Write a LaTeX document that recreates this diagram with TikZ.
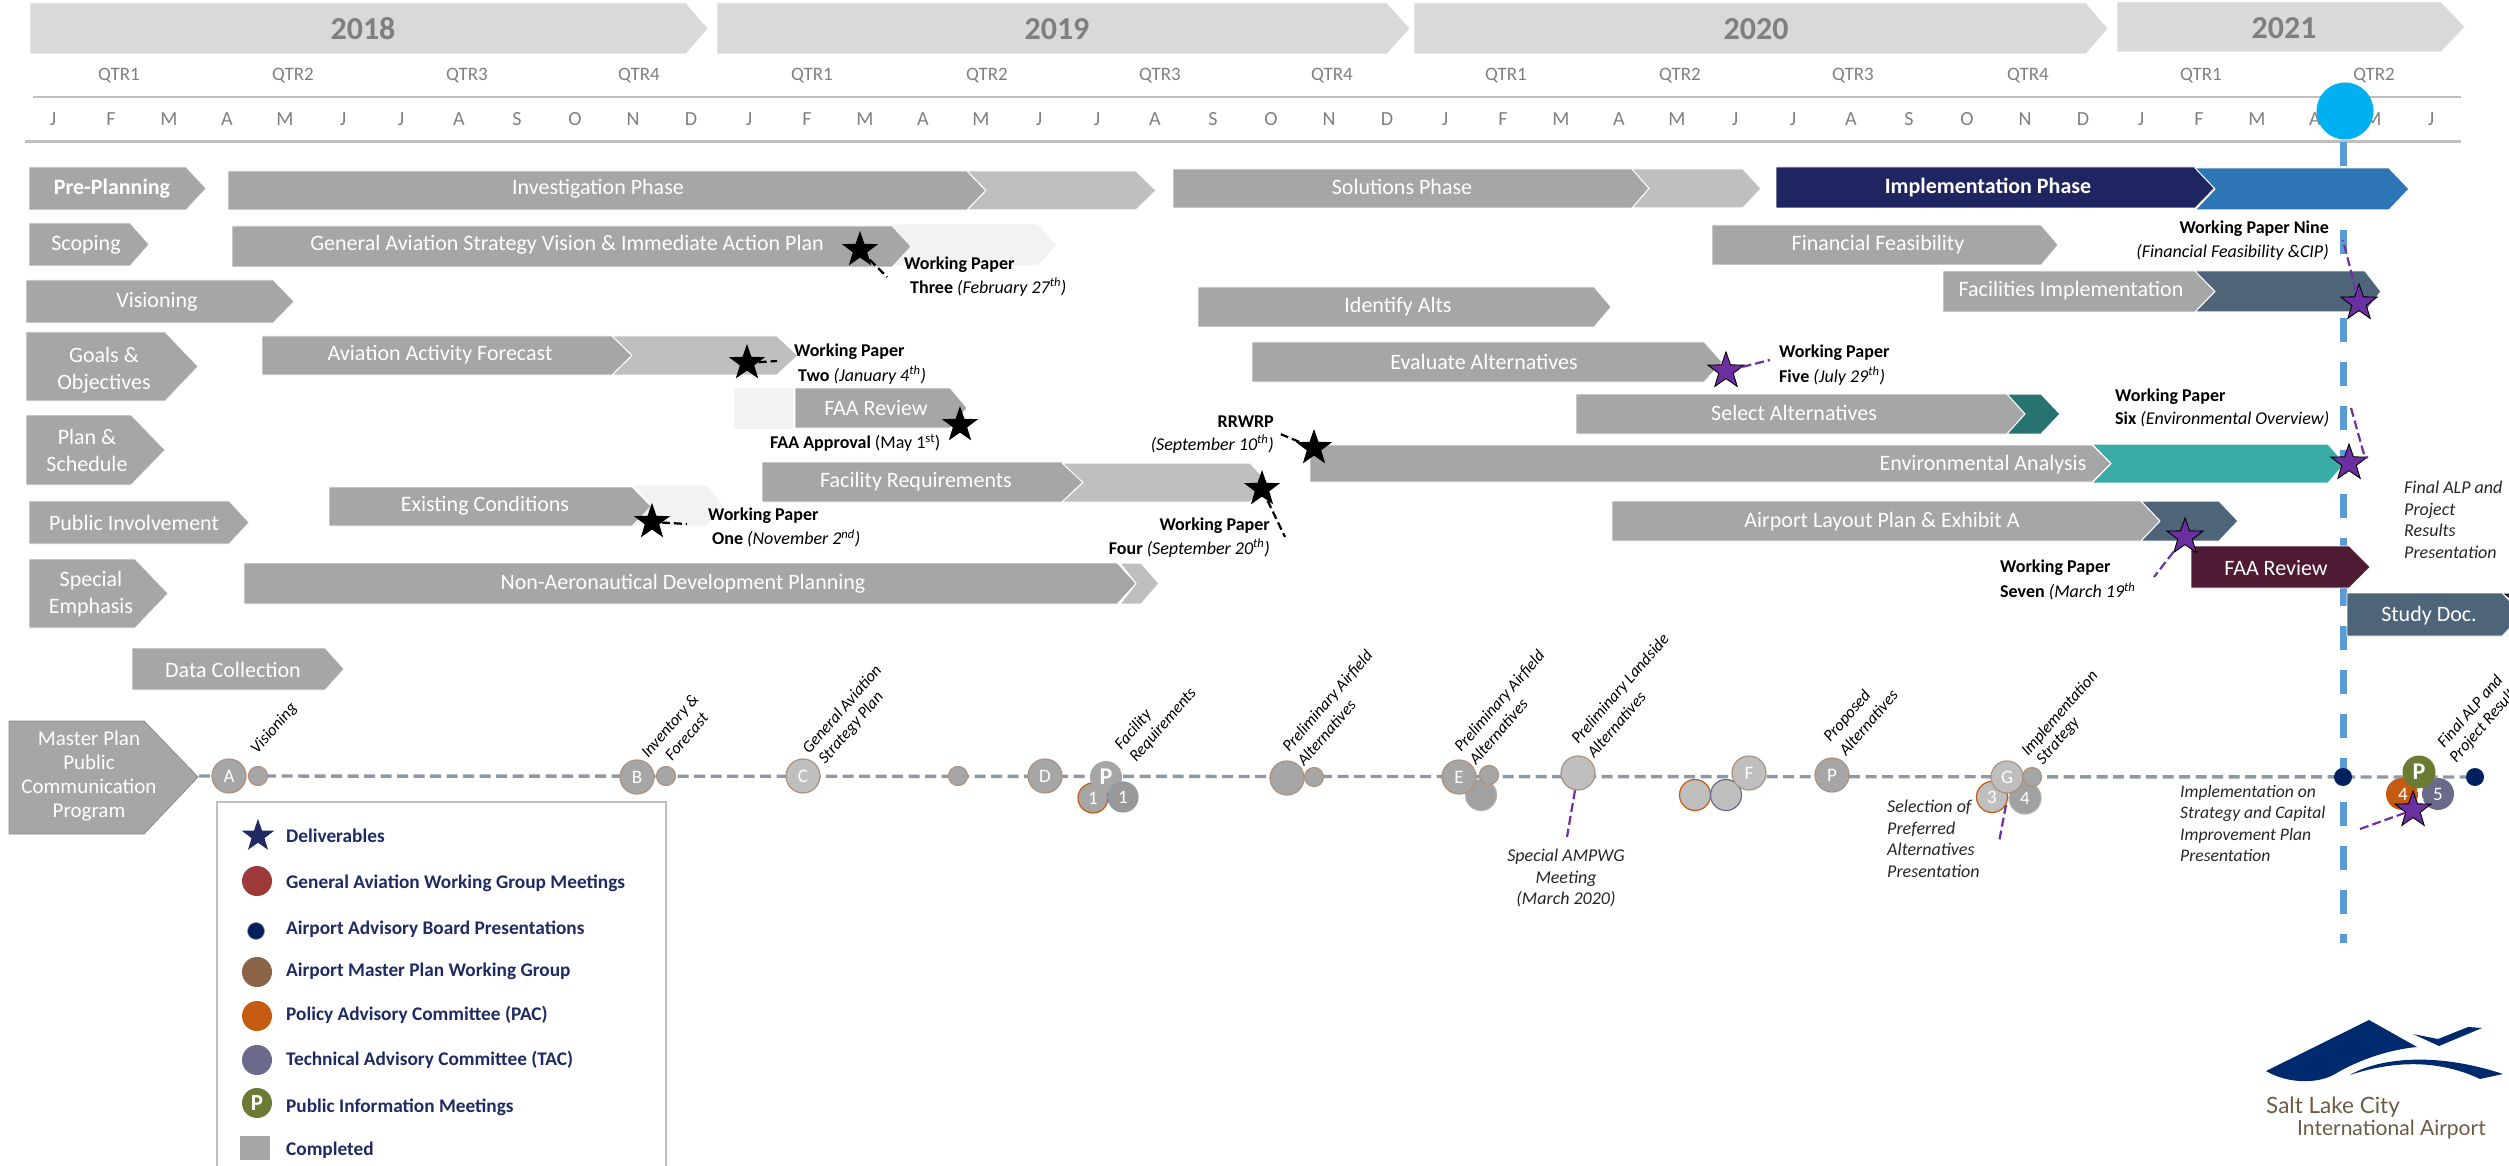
\documentclass[tikz,border=0pt]{standalone}
\usepackage{fontspec}
\setmainfont{Carlito}
\newfontfamily\logofont{Lato}
\usetikzlibrary{shapes.geometric}
\definecolor{yearfill}{HTML}{D9D9D9}
\definecolor{done}{HTML}{A6A6A6}
\definecolor{donelt}{HTML}{BFBFBF}
\definecolor{faint}{HTML}{F2F2F2}
\definecolor{greytxt}{HTML}{7F7F7F}
\definecolor{nowblue}{HTML}{5B9BD5}
\definecolor{nowdot}{HTML}{00B0F0}
\definecolor{navybar}{HTML}{1F2560}
\definecolor{bluebar}{HTML}{2E75B6}
\definecolor{slatebar}{HTML}{4E6478}
\definecolor{tealbar}{HTML}{38ACA5}
\definecolor{tealdk}{HTML}{26736F}
\definecolor{wine}{HTML}{4F1A33}
\definecolor{purp}{HTML}{7030A0}
\definecolor{starpurp}{HTML}{6B2FA0}
\definecolor{legnavy}{HTML}{1F2A63}
\definecolor{tline}{HTML}{8C99A8}
\definecolor{edgebrown}{HTML}{B09078}
\definecolor{orangec}{HTML}{C55A11}
\definecolor{purpc}{HTML}{6A6A8A}
\definecolor{olive}{HTML}{6B7B33}
\definecolor{maroon}{HTML}{9E3A3A}
\definecolor{brownc}{HTML}{8B6448}
\definecolor{abnavy}{HTML}{002060}
\definecolor{logoblue}{HTML}{002A6E}
\definecolor{logotxt}{HTML}{6B5B45}
\tikzset{
  year/.style={text=greytxt,font=\fontsize{32}{36}\selectfont\bfseries,inner sep=0},
  qtr/.style={text=greytxt,font=\fontsize{19}{22}\selectfont,inner sep=0},
  mon/.style={text=greytxt,font=\fontsize{20}{22}\selectfont,inner sep=0},
  barlbl/.style={text=white,font=\fontsize{22}{27}\selectfont,inner sep=0,align=center},
  barbold/.style={barlbl,font=\fontsize{22}{27}\selectfont\bfseries},
  wp/.style={text=black,font=\fontsize{18}{22}\selectfont,inner sep=0,align=left},
  ital/.style={text=black!85,font=\fontsize{18}{21.5}\selectfont\itshape,inner sep=0,align=left},
  rot/.style={text=black,font=\fontsize{16.5}{19}\selectfont\itshape,inner sep=0,rotate=49,anchor=west},
  bstar/.style={star,star points=5,star point ratio=2.5,fill=black,draw=none,minimum size=38,inner sep=0},
  pstar/.style={star,star points=5,star point ratio=2.5,fill=starpurp,draw=black,line width=.9,minimum size=38,inner sep=0},
  bdash/.style={draw=black,line width=2.2,dash pattern=on 8 off 4},
  pdash/.style={draw=purp,line width=2.2,dash pattern=on 9 off 4},
  mc/.style={circle,fill=done,draw=edgebrown,line width=1.2,inner sep=0,text=white,font=\fontsize{19}{20}\selectfont,minimum size=#1},
  mc/.default=34,
  lgt/.style={text=legnavy,font=\fontsize{19.3}{22}\selectfont\bfseries,inner sep=0,anchor=west},
  lgc/.style={circle,inner sep=0,minimum size=30,draw=none},
  logot/.style={text=logotxt,font=\logofont\fontsize{21}{24}\selectfont,inner sep=0,anchor=west},
}
% pentagon: x0, neck, tip, ytop, ybottom, colour
\newcommand\pent[6]{\fill[#6,draw=white,line width=.6] (#1,#4) -- (#2,#4) -- (#3,{(#4+#5)/2}) -- (#2,#5) -- (#1,#5) -- cycle;}
% chevron: x0, notch, neck, tip, ytop, ybottom, colour
\newcommand\chev[7]{\fill[#7,draw=white,line width=1] (#1,#5) -- (#3,#5) -- (#4,{(#5+#6)/2}) -- (#3,#6) -- (#1,#6) -- (#2,{(#5+#6)/2}) -- cycle;}
\begin{document}
\begin{tikzpicture}[x=1pt,y=-1pt]
\useasboundingbox (0,0) rectangle (2509,1166);
\clip (0,0) rectangle (2509,1166);
% years
\pent{30}{686}{708}{3}{54}{yearfill}
\pent{717}{1387}{1410}{3}{54}{yearfill}
\pent{1414}{2086}{2108}{3}{54}{yearfill}
\pent{2117}{2441}{2465}{2}{52}{yearfill}
\node[year] (y18) at (363,29) {2018};
\node[year] (y19) at (1057,29) {2019};
\node[year] (y20) at (1756,29) {2020};
\node[year] (y21) at (2284,28) {2021};
% quarters
\foreach \x/\t [count=\i] in {119/QTR1,293/QTR2,467/QTR3,639/QTR4,812/QTR1,987/QTR2,1160/QTR3,1332/QTR4,1506/QTR1,1680/QTR2,1853/QTR3,2028/QTR4,2201/QTR1,2374/QTR2}
  \node[qtr] (q\i) at (\x,76) {\t};
\coordinate (l1a) at (33,97); \coordinate (l1b) at (2461,97);
\coordinate (l2a) at (25,142); \coordinate (l2b) at (2461,142);
\draw[donelt,line width=2.6] (l1a) -- (l1b);
\draw[donelt,line width=3] (l2a) -- (l2b);
% months
\foreach \t [count=\i from 0] in {J,F,M,A,M,J,J,A,S,O,N,D,J,F,M,A,M,J,J,A,S,O,N,D,J,F,M,A,M,J,J,A,S,O,N,D,J,F,M,A,M,J}
  \node[mon] (m\i) at ({53+58*\i},119.5) {\t};
% today marker
\coordinate (nowa) at (2343.5,142); \coordinate (nowb) at (2343.5,943);
\draw[nowblue,line width=6.5,dash pattern=on 24 off 20] (nowa) -- (nowb);
\node[circle,fill=nowdot,minimum size=57,inner sep=0] (now) at (2345,111) {};
% left column
\pent{29}{186}{206}{167}{210}{done}
\node[barbold] (pp) at (112,189) {Pre-Planning};
\pent{29}{130}{149}{223}{266}{done}
\node[barlbl] (sc) at (86,245) {Scoping};
\pent{26}{273}{294}{280}{323}{done}
\node[barlbl] (vi) at (157,302) {Visioning};
\pent{26}{165}{198}{332}{401}{done}
\node[barlbl] (go) at (104,370) {Goals \&\\Objectives};
\pent{26}{131}{165}{415}{485}{done}
\node[barlbl] (pl) at (87,450) {Plan \&\\Schedule};
\pent{29}{229}{249}{501}{544}{done}
\node[barlbl] (pu) at (134,523) {Public Involvement};
\pent{29}{135}{168}{559}{628}{done}
\node[barlbl] (se) at (91,594) {Special\\Emphasis};
\pent{132}{325}{344}{648}{690}{done}
\node[barlbl] (da) at (233,670) {Data Collection};
\fill[done,draw=black!45,line width=.8] (9,721) -- (144,721) -- (198,777) -- (144,834) -- (9,834) -- cycle;
\node[barlbl,font=\fontsize{21}{24}\selectfont] (mp) at (89,776) {Master Plan\\Public\\Communication\\Program};
% phase bars
\pent{228}{967}{986}{171}{210}{done}
\chev{967}{986}{1136}{1156}{171}{210}{donelt}
\node[barlbl] (ip) at (598,189) {Investigation Phase};
\pent{1173}{1632}{1649}{169}{208}{done}
\chev{1632}{1649}{1743}{1761}{169}{208}{donelt}
\node[barlbl] (sp) at (1402,187) {Solutions Phase};
\pent{1776}{2195}{2215}{167}{208}{navybar}
\chev{2195}{2215}{2389}{2409}{168}{210}{bluebar}
\node[barbold] (imp) at (1988,187) {Implementation Phase};
\chev{892}{892}{1038}{1057}{224}{266}{faint}
\pent{232}{892}{911}{226}{267}{done}
\node[barlbl] (ga) at (567,245) {General Aviation Strategy Vision \& Immediate Action Plan};
\pent{1712}{2041}{2058}{225}{265}{done}
\node[barlbl] (ff) at (1878,245) {Financial Feasibility};
\pent{1943}{2195}{2215}{271}{312}{done}
\chev{2195}{2215}{2365}{2381}{271}{312}{slatebar}
\node[barlbl] (fi) at (2071,291) {Facilities Implementation};
\pent{1198}{1594}{1611}{287}{327}{done}
\node[barlbl] (ia) at (1398,307) {Identify Alts};
\pent{1252}{1704}{1722}{342}{382}{done}
\node[barlbl] (ea) at (1484,362) {Evaluate Alternatives};
\pent{262}{612}{632}{336}{375}{done}
\chev{612}{632}{777}{798}{336}{375}{donelt}
\node[barlbl] (af) at (440,355) {Aviation Activity Forecast};
\fill[faint] (734,388) rectangle (793,429);
\pent{795}{950}{967}{388}{428}{done}
\node[barlbl] (fr1) at (876,408) {FAA Review};
\pent{762}{1062}{1083}{462}{502}{done}
\chev{1062}{1083}{1250}{1268}{463}{502}{donelt}
\node[barlbl] (fq) at (916,482) {Facility Requirements};
\pent{1576}{2007}{2025}{394}{434}{done}
\chev{2007}{2025}{2041}{2060}{394}{434}{tealdk}
\node[barlbl] (sa) at (1794,413) {Select Alternatives};
\pent{1310}{2092}{2111}{445}{482}{done}
\chev{2092}{2111}{2328}{2345}{444}{483}{tealbar}
\node[barlbl] (en) at (1983,465) {Environmental Analysis};
\chev{632}{651}{707}{724}{485}{526}{faint}
\pent{329}{632}{651}{487}{526}{done}
\node[barlbl] (ec) at (485,506) {Existing Conditions};
\pent{1612}{2141}{2160}{501}{541}{done}
\chev{2141}{2160}{2219}{2238}{501}{541}{slatebar}
\node[barlbl] (al) at (1882,522) {Airport Layout Plan \& Exhibit A};
\pent{244}{1117}{1136}{563}{604}{done}
\chev{1120}{1136}{1141}{1159}{563}{604}{donelt}
\node[barlbl] (na) at (683,584) {Non-Aeronautical Development Planning};
\pent{2191}{2349}{2370}{546}{588}{wine}
\node[barlbl] (fr2) at (2276,568) {FAA Review};
\pent{2347}{2502}{2522}{593}{636}{slatebar}
\node[barlbl] (sd) at (2429,616) {Study Doc.};
% stars and leaders
\node[bstar] (s3) at (860,250) {};
\coordinate (c3) at (887,277);
\draw[bdash] (s3) -- (c3);
\node[wp,anchor=west] (t3a) at (904,265) {\textbf{Working Paper}};
\node[wp,anchor=west] (t3b) at (910,287) {\textbf{Three} \textit{(February 27\textsuperscript{th})}};
\node[bstar] (s2) at (747,363) {};
\coordinate (c2) at (777,361);
\draw[bdash] (s2) -- (c2);
\node[wp,anchor=west] (t2a) at (794,352) {\textbf{Working Paper}};
\node[wp,anchor=west] (t2b) at (798,375) {\textbf{Two} \textit{(January 4\textsuperscript{th})}};
\node[bstar] (sf) at (960,425) {};
\node[wp,anchor=west] (tf) at (770,443) {\textbf{FAA Approval} (May 1\textsuperscript{st})};
\node[bstar] (s4) at (1262,489) {};
\coordinate (c4) at (1285,537);
\draw[bdash] (s4) -- (c4);
\node[wp,anchor=east] (t4a) at (1270,526) {\textbf{Working Paper}};
\node[wp,anchor=east] (t4b) at (1270,548) {\textbf{Four} \textit{(September 20\textsuperscript{th})}};
\node[bstar] (sr) at (1314,448) {};
\coordinate (cr) at (1278,433);
\draw[bdash] (sr) -- (cr);
\node[wp,anchor=east] (tra) at (1274,422) {\textbf{RRWRP}};
\node[wp,anchor=east] (trb) at (1274,444) {\textit{(September 10\textsuperscript{th})}};
\node[bstar] (s1) at (652,522) {};
\coordinate (c1) at (687,524);
\draw[bdash] (s1) -- (c1);
\node[wp,anchor=west] (t1a) at (708,516) {\textbf{Working Paper}};
\node[wp,anchor=west] (t1b) at (712,538) {\textbf{One} \textit{(November 2\textsuperscript{nd})}};
\node[pstar] (s5) at (1726,371) {};
\coordinate (c5) at (1770,360);
\draw[pdash] (s5) -- (c5);
\node[wp,anchor=west] (t5a) at (1779,353) {\textbf{Working Paper}};
\node[wp,anchor=west] (t5b) at (1779,376) {\textbf{Five} \textit{(July 29\textsuperscript{th})}};
\node[pstar] (s9) at (2359,303) {};
\coordinate (c9) at (2343,240);
\draw[pdash] (s9) -- (c9);
\node[wp,anchor=east] (t9a) at (2329,229) {\textbf{Working Paper Nine}};
\node[wp,anchor=east] (t9b) at (2329,252) {\textit{(Financial Feasibility \&CIP)}};
\node[pstar] (s6) at (2349,463) {};
\coordinate (c6) at (2351,408);
\coordinate (c6b) at (2365,458);
\draw[pdash] (c6) -- (c6b) -- (s6);
\node[wp,anchor=west] (t6a) at (2115,397) {\textbf{Working Paper}};
\node[wp,anchor=west] (t6b) at (2115,419) {\textbf{Six} \textit{(Environmental Overview)}};
\node[pstar] (s7) at (2185,537) {};
\coordinate (c7) at (2154,577);
\draw[pdash] (s7) -- (c7);
\node[wp,anchor=west] (t7a) at (2000,568) {\textbf{Working Paper}};
\node[wp,anchor=west] (t7b) at (2000,591) {\textbf{Seven} \textit{(March 19\textsuperscript{th}}};
\node[pstar] (sx) at (2523,600) {};
\node[ital,anchor=north west] (fin) at (2404,481) {Final ALP and\\Project\\Results\\Presentation};
% timeline
\coordinate (ta) at (199,776); \coordinate (tb) at (2475,777);
\draw[tline,line width=3.4,dash pattern=on 11 off 5.5] (ta) -- (tb);
\node[mc] (ca) at (229,776) {A};
\node[mc=19] (ca2) at (258,776) {};
\node[mc] (cb) at (637,777) {B};
\node[mc=19] (cb2) at (666,776) {};
\node[mc,fill=donelt] (cc) at (803,776) {C};
\node[mc=19] (cs) at (958,776) {};
\node[mc] (cd) at (1045,776) {D};
\node[mc=30,draw=orangec] (c11) at (1093,798) {1};
\node[mc=32,draw=none,font=\fontsize{24}{24}\selectfont\bfseries] (cp) at (1106,777) {P};
\node[mc=30,draw=tline,fill=black!40] (c12) at (1123,797) {1};
\node[mc] (ce0) at (1287,778) {};
\node[mc=19] (ce1) at (1314,777) {};
\node[mc=31,fill=black!37,draw=black!30] (ce2) at (1481,795) {};
\node[mc] (ce) at (1459,777) {E};
\node[mc=19] (ce3) at (1489,775) {};
\node[mc,fill=donelt] (cl) at (1578,773) {};
\coordinate (clb) at (1567,837);
\draw[pdash] (cl) -- (clb);
\node[ital,align=center] (tam) at (1566,878) {Special AMPWG\\Meeting\\(March 2020)};
\node[mc=31,draw=orangec,fill=donelt] (cf1) at (1695,795) {};
\node[mc=31,draw=purpc,fill=donelt] (cf2) at (1726,795) {};
\node[mc,fill=donelt] (cf) at (1749,773) {F};
\node[mc] (cp2) at (1832,775) {P};
\node[mc=31,draw=orangec,fill=donelt] (cg3) at (1992,797) {3};
\node[mc=32,fill=black!37,draw=black!30] (cg4) at (2025,798) {4};
\node[mc=32,fill=donelt] (cg) at (2007,777) {G};
\node[mc=19] (cg2) at (2032,777) {};
\coordinate (csa) at (2006,805); \coordinate (csb) at (1999,842);
\draw[pdash] (csa) -- (csb);
\node[ital,anchor=north west] (tsel) at (1887,800) {Selection of\\Preferred\\Alternatives\\Presentation};
\node[circle,fill=abnavy,minimum size=18,inner sep=0] (dd1) at (2343,777) {};
\node[circle,fill=abnavy,minimum size=18,inner sep=0] (dd2) at (2475,777) {};
\node[mc=32,fill=orangec,draw=none] (f4) at (2402,794) {};
\node[mc=32,fill=purpc,draw=none] (f5) at (2438,794) {5};
\node[mc=33,fill=olive,draw=none,font=\fontsize{24}{24}\selectfont\bfseries] (fp) at (2419,772) {P};
\node[text=white,font=\fontsize{19}{20}\selectfont,inner sep=0] (f4t) at (2403,794) {4};
\node[text=white,font=\fontsize{19}{20}\selectfont,inner sep=0] (f1t) at (2420,794) {1};
\node[pstar] (sf1) at (2413,810) {};
\coordinate (cf3) at (2360,829);
\draw[pdash] (sf1) -- (cf3);
\node[ital,anchor=north west,font=\fontsize{17.6}{21.5}\selectfont\itshape] (timp) at (2180,785) {Implementation on\\Strategy and Capital\\Improvement Plan\\Presentation};
% rotated labels
\node[rot] (r1) at (254,752) {Visioning};
\node[rot] (r2) at (645,756) {Inventory \&};
\node[rot] (r3) at (668,758) {Forecast};
\node[rot] (r4) at (805,751) {General Aviation};
\node[rot] (r5) at (822,762) {Strategy Plan};
\node[rot] (r6) at (1118,748) {Facility};
\node[rot] (r7) at (1133,760) {Requirements};
\node[rot] (r8) at (1286,750) {Preliminary Airfield};
\node[rot] (r9) at (1300,763) {Alternatives};
\node[rot] (r10) at (1458,750) {Preliminary Airfield};
\node[rot] (r11) at (1472,762) {Alternatives};
\node[rot] (r12) at (1575,742) {Preliminary Landside};
\node[rot] (r13) at (1590,755) {Alternatives};
\node[rot] (r14) at (1827,740) {Proposed};
\node[rot] (r15) at (1842,753) {Alternatives};
\node[rot] (r16) at (2025,754) {Implementation};
\node[rot] (r17) at (2040,763) {Strategy};
\node[rot] (r18) at (2440,745) {Final ALP and};
\node[rot] (r19) at (2453,761) {Project Results};
% legend
\coordinate (lba) at (217,1170); \coordinate (lbb) at (217,802); \coordinate (lbc) at (666,802); \coordinate (lbd) at (666,1170);
\draw[donelt,line width=2] (lba) -- (lbb) -- (lbc) -- (lbd);
\node[star,star points=5,star point ratio=2.5,fill=legnavy,minimum size=34,inner sep=0] (ls) at (258,836) {};
\node[lgt] (l1) at (286,836) {Deliverables};
\node[lgc,fill=maroon] (lc2) at (257,881) {};
\node[lgt] (l2) at (286,883) {General Aviation Working Group Meetings};
\node[circle,fill=abnavy,draw=edgebrown,line width=.6,minimum size=17,inner sep=0] (lc3) at (256,931) {};
\node[lgt] (l3) at (286,929) {Airport Advisory Board Presentations};
\node[lgc,fill=brownc] (lc4) at (257,972) {};
\node[lgt] (l4) at (286,971) {Airport Master Plan Working Group};
\node[lgc,fill=orangec] (lc5) at (257,1016) {};
\node[lgt] (l5) at (286,1015) {Policy Advisory Committee (PAC)};
\node[lgc,fill=purpc] (lc6) at (257,1060) {};
\node[lgt] (l6) at (286,1060) {Technical Advisory Committee (TAC)};
\node[lgc,fill=olive,text=white,font=\fontsize{23}{24}\selectfont\bfseries] (lc7) at (257,1103) {P};
\node[lgt] (l7) at (286,1107) {Public Information Meetings};
\node[fill=done,minimum width=30,minimum height=24,inner sep=0] (lc8) at (255,1148) {};
\node[lgt] (l8) at (286,1150) {Completed};
% logo
\fill[logoblue] (2266,1071) -- (2369,1020) -- (2417,1047) .. controls (2385,1050) and (2355,1062) .. (2335,1074) .. controls (2318,1084) and (2288,1084) .. (2266,1071) -- cycle;
\fill[logoblue] (2350,1075) .. controls (2375,1060) and (2430,1050) .. (2503,1074) -- (2480,1079) .. controls (2440,1060) and (2395,1060) .. (2350,1075) -- cycle;
\fill[logoblue] (2413,1034) -- (2438,1039) -- (2468,1027) -- (2482,1028) -- (2439,1046) -- cycle;
\node[logot,font=\logofont\fontsize{22.5}{24}\selectfont] (lg1) at (2266,1107) {Salt Lake City};
\node[logot] (lg2) at (2297,1130) {International Airport};
\end{tikzpicture}
\end{document}
